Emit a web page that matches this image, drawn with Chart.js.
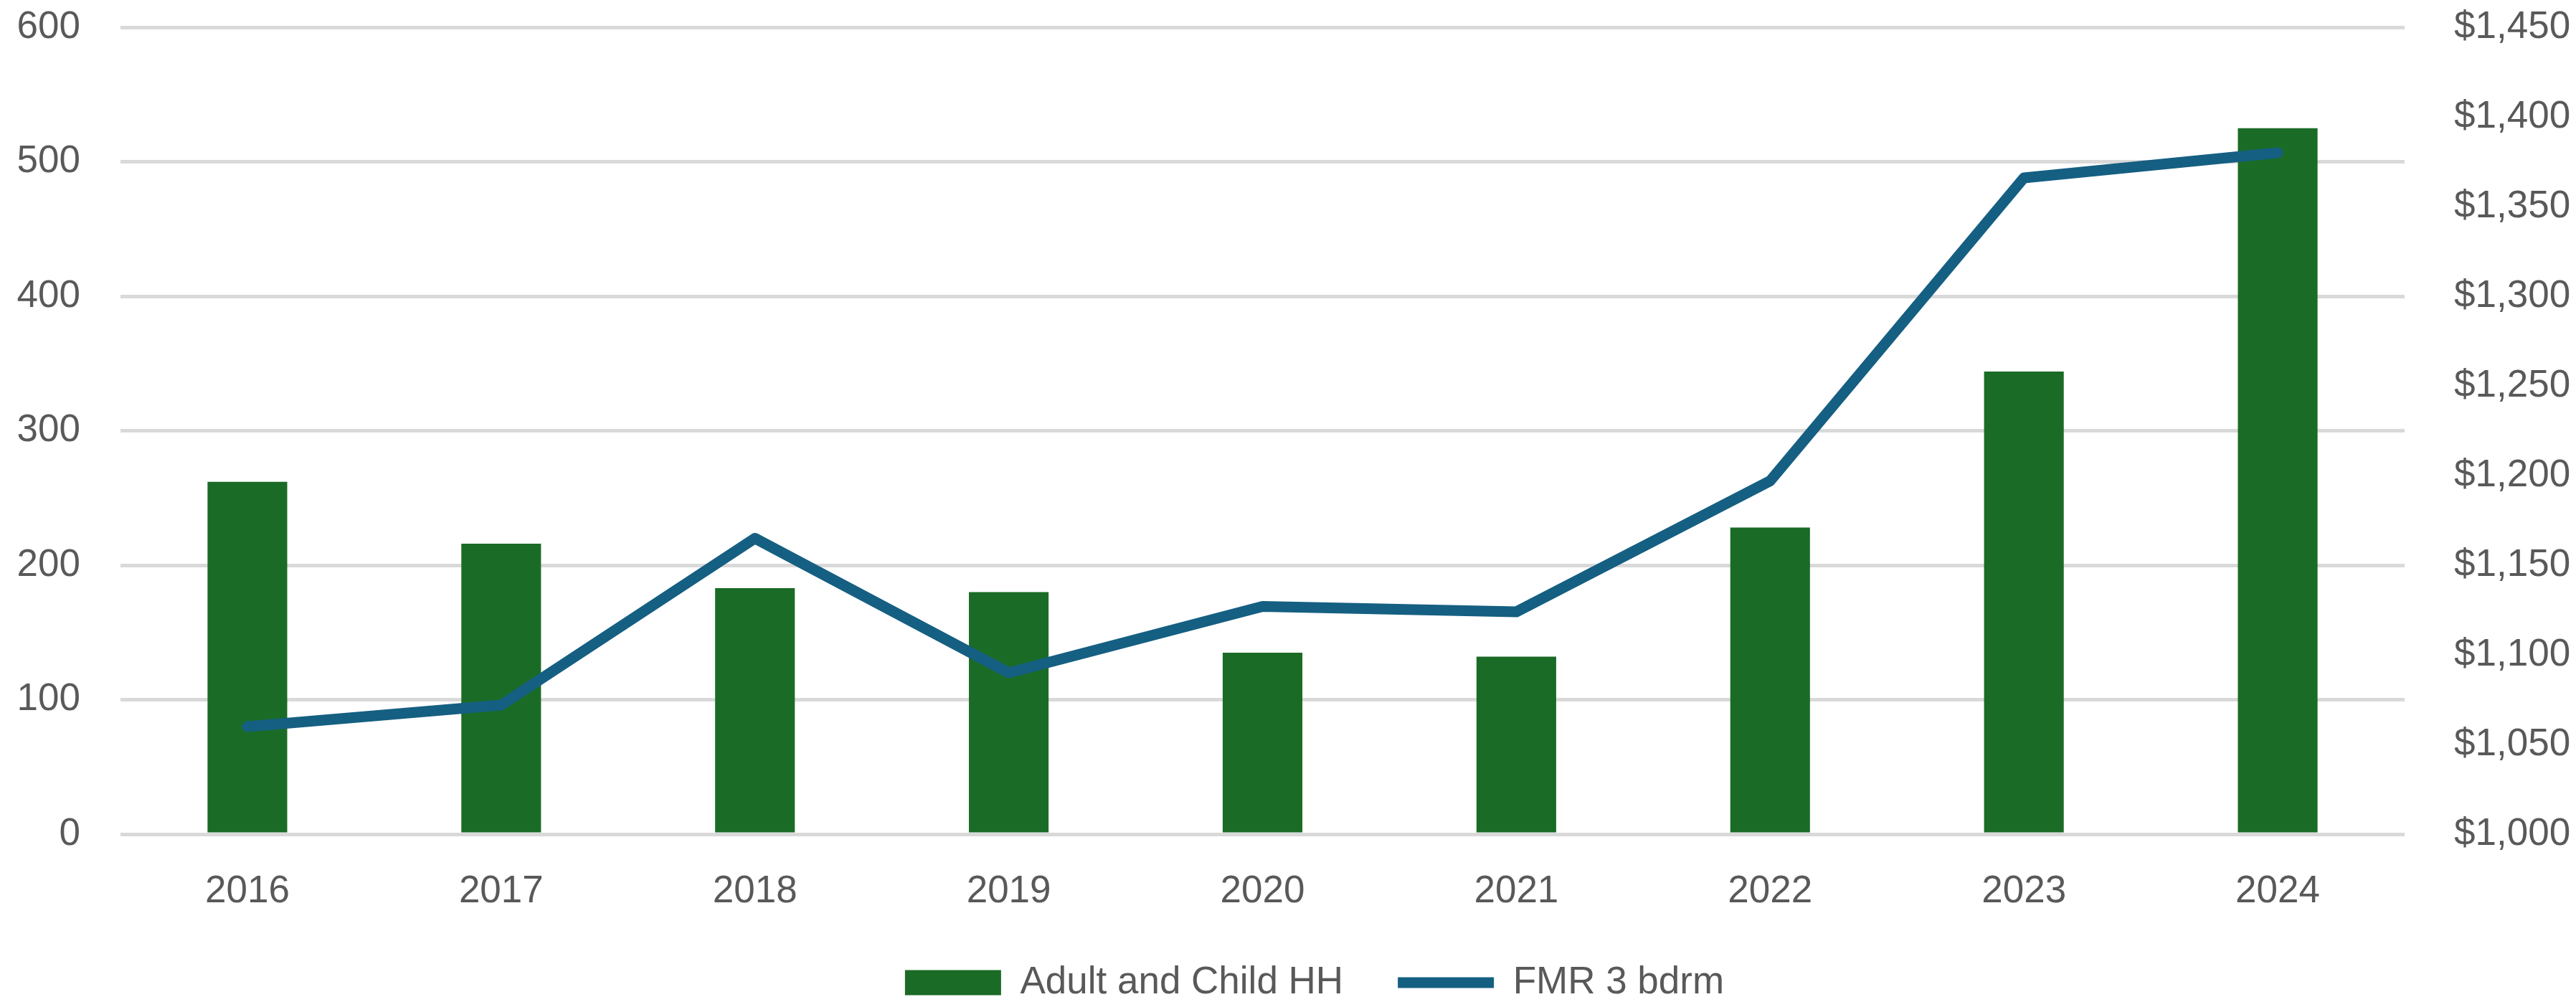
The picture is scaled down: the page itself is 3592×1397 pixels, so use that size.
<!DOCTYPE html>
<html>
<head>
<meta charset="utf-8">
<script src="https://cdn.jsdelivr.net/npm/chart.js@4.4.1/dist/chart.umd.min.js"></script>
<style>
  html, body { margin: 0; padding: 0; background: #fff; }
  canvas { display: block; }
</style>
</head>
<body>
<canvas id="hhChart" width="3592" height="1397"></canvas>
<script>
// chart values
const years = ['2016', '2017', '2018', '2019', '2020', '2021', '2022', '2023', '2024'];
const adultChildHH = [262, 216, 183, 180, 135, 132, 228, 344, 525];
const fmr3Bdrm = [1060, 1072, 1165, 1090, 1127, 1124, 1197, 1366, 1380];
const leftTicks = [0, 600, 100];      // min, max, step
const rightTicks = [1000, 1450, 50];

const textColor = '#595959';
const tickFont = { family: 'Liberation Sans, Arial, sans-serif', size: 53 };

// nudge the legend row a bit right, like the original
const legendShift = {
    id: 'legendShift',
    afterLayout(chart) {
        if (chart.legend) chart.legend.left += 74;
    }
};

// fixed side widths, and no extra room asked for the end labels
function fixWidth(w) {
    return (s) => {
        s.width = w;
        s.paddingTop = 0;
        s.paddingBottom = 0;
    };
}

window.onload = function () {
    const ctx = document.getElementById('hhChart').getContext('2d');

    new Chart(ctx, {
        type: 'bar',
        data: {
            labels: years,
            datasets: [{
                type: 'bar',
                label: 'Adult and Child HH',
                data: adultChildHH,
                backgroundColor: '#1a6b26',
                borderWidth: 0,
                barPercentage: 0.314,
                categoryPercentage: 1,
                pointStyle: 'rect',
                yAxisID: 'y',
                order: 2
            }, {
                type: 'line',
                label: 'FMR 3 bdrm',
                data: fmr3Bdrm,
                borderColor: '#155f82',
                backgroundColor: '#155f82',
                borderWidth: 15,
                borderCapStyle: 'round',
                borderJoinStyle: 'round',
                tension: 0,
                pointRadius: 0,
                pointHoverRadius: 0,
                pointStyle: 'line',
                yAxisID: 'y1',
                order: 1
            }]
        },
        options: {
            responsive: false,
            animation: false,
            devicePixelRatio: 1,
            layout: { padding: { top: 38, bottom: -9.6, left: 0, right: 0 } },
            plugins: {
                tooltip: { enabled: false },
                legend: {
                    position: 'bottom',
                    labels: {
                        usePointStyle: true,
                        pointStyleWidth: 134,
                        boxHeight: 35,
                        padding: 76,
                        color: textColor,
                        font: tickFont,
                        sort: (a, b) => a.datasetIndex - b.datasetIndex
                    }
                }
            },
            scales: {
                x: {
                    grid: { display: false },
                    border: { display: false },
                    ticks: { color: textColor, font: tickFont, padding: 41, maxRotation: 0 },
                    afterFit: (s) => { s.height = 104.6; }
                },
                y: {
                    position: 'left',
                    min: leftTicks[0],
                    max: leftTicks[1],
                    ticks: { stepSize: leftTicks[2], color: textColor, font: tickFont, padding: 56 },
                    grid: { color: '#d9d9d9', lineWidth: 5, drawTicks: false },
                    border: { display: false },
                    afterFit: fixWidth(168)
                },
                y1: {
                    position: 'right',
                    min: rightTicks[0],
                    max: rightTicks[1],
                    ticks: {
                        stepSize: rightTicks[2],
                        color: textColor,
                        font: tickFont,
                        padding: 69,
                        callback: (v) => '$' + v.toLocaleString('en-US')
                    },
                    grid: { drawOnChartArea: false, drawTicks: false },
                    border: { display: false },
                    afterFit: fixWidth(239)
                }
            }
        },
        plugins: [legendShift]
    });
};
</script>
</body>
</html>
